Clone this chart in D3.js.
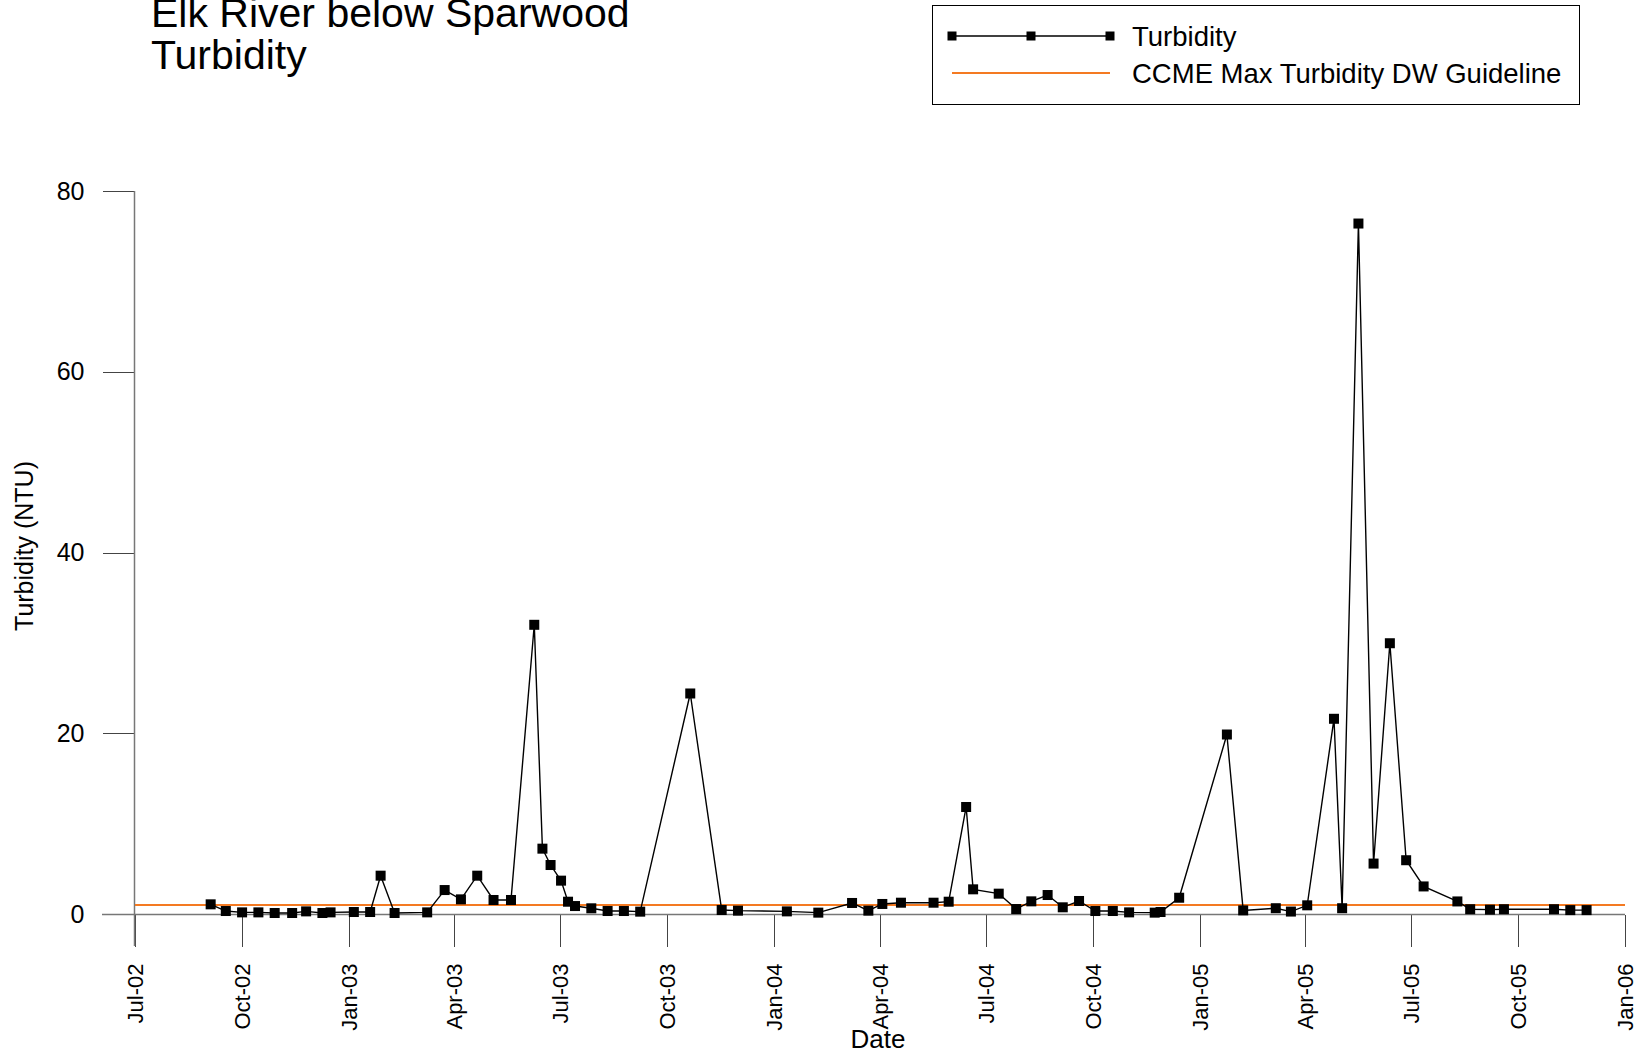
<!DOCTYPE html>
<html>
<head>
<meta charset="utf-8">
<script src="https://cdn.jsdelivr.net/npm/d3@7"></script>
<style>
  html, body { margin: 0; padding: 0; background: #fff; }
  svg { display: block; font-family: "Liberation Sans", Arial, sans-serif; }
</style>
</head>
<body>
<div id="chart"></div>
<script>
const sampleDates = [
  '2002-09-04', '2002-09-17', '2002-10-01', '2002-10-15', '2002-10-29', '2002-11-13', '2002-11-25', '2002-12-09', '2002-12-16',
  '2003-01-05', '2003-01-19', '2003-01-28', '2003-02-09', '2003-03-09', '2003-03-24', '2003-04-07', '2003-04-21', '2003-05-05',
  '2003-05-20', '2003-06-09', '2003-06-16', '2003-06-23', '2003-07-02', '2003-07-08', '2003-07-14', '2003-07-28', '2003-08-11',
  '2003-08-25', '2003-09-08', '2003-10-21', '2003-11-17', '2003-12-01',
  '2004-01-12', '2004-02-08', '2004-03-08', '2004-03-22', '2004-04-03', '2004-04-19', '2004-05-17', '2004-05-30', '2004-06-14',
  '2004-06-20', '2004-07-12', '2004-07-27', '2004-08-09', '2004-08-23', '2004-09-05', '2004-09-19', '2004-10-03', '2004-10-18',
  '2004-11-01', '2004-11-23', '2004-11-28', '2004-12-14',
  '2005-01-24', '2005-02-07', '2005-03-07', '2005-03-20', '2005-04-03', '2005-04-26', '2005-05-03', '2005-05-17', '2005-05-30',
  '2005-06-13', '2005-06-27', '2005-07-12', '2005-08-10', '2005-08-21', '2005-09-07', '2005-09-19', '2005-11-01', '2005-11-15',
  '2005-11-29'
];
const turbidity = [
  1.07, 0.33, 0.18, 0.18, 0.11, 0.11, 0.29, 0.11, 0.18,
  0.22, 0.22, 4.24, 0.11, 0.18, 2.65, 1.62, 4.24, 1.55,
  1.55, 32.0, 7.23, 5.42, 3.69, 1.36, 0.88, 0.63, 0.33,
  0.33, 0.26, 24.4, 0.44, 0.37,
  0.29, 0.15, 1.22, 0.37, 1.11, 1.25, 1.25, 1.36, 11.84,
  2.73, 2.25, 0.55, 1.4, 2.1, 0.74, 1.44, 0.33, 0.33,
  0.18, 0.15, 0.22, 1.8,
  19.86, 0.4, 0.64, 0.27, 0.96, 21.6, 0.64, 76.4, 5.58,
  29.96, 5.95, 3.05, 1.39, 0.53, 0.48, 0.53, 0.53, 0.43,
  0.43
];
const guidelineValue = 1;
const dateDomain = ['2002-07-01', '2006-01-01'];
const yMajorTicks = [0, 20, 40, 60, 80];
const yMinorTicks = [10, 30, 50, 70];
const titleLines = ['Elk River below Sparwood', 'Turbidity'];
const legendLabels = ['Turbidity', 'CCME Max Turbidity DW Guideline'];

const parse = d3.utcParse('%Y-%m-%d');
const data = sampleDates.map((d, i) => ({ date: parse(d), v: turbidity[i] }));

const width = 1640, height = 1055;
const svg = d3.select('#chart').append('svg').attr('width', width).attr('height', height);

const x = d3.scaleUtc(dateDomain.map(parse), [135, 1625]);
const y = d3.scaleLinear([0, 80], [914, 191]);

// title
svg.append('g').selectAll('text').data(titleLines).join('text')
  .attr('x', 151).attr('y', (d, i) => 27 + i * 42)
  .attr('font-size', 41).attr('fill', '#000').text((d) => d);

// axes
const quarterTicks = d3.utcMonth.every(3).range(x.domain()[0], d3.utcDay.offset(x.domain()[1], 1));
const midTicks = d3.pairs(quarterTicks).map(([a, b]) => new Date((+a + +b) / 2));

const gx = svg.append('g').attr('transform', 'translate(0,914.5)');
gx.call(d3.axisBottom(x).tickValues(midTicks).tickSize(16).tickFormat(''));
gx.call(d3.axisBottom(x).tickValues(quarterTicks).tickSize(32).tickFormat(d3.utcFormat('%b-%y')));
gx.selectAll('.domain').remove();
gx.selectAll('line').attr('stroke', '#444').attr('shape-rendering', 'crispEdges');
gx.selectAll('text')
  .attr('transform', 'rotate(-90)')
  .attr('x', -49).attr('y', 0).attr('dy', '0.35em')
  .attr('text-anchor', 'end').attr('font-size', 22).attr('font-family', 'Liberation Sans, Arial, sans-serif').attr('fill', '#000');

const gy = svg.append('g').attr('transform', 'translate(134.5,0)');
gy.call(d3.axisLeft(y).tickValues(yMinorTicks).tickSize(16).tickFormat(''));
gy.call(d3.axisLeft(y).tickValues(yMajorTicks).tickSize(32));
gy.selectAll('.domain').remove();
gy.selectAll('line').attr('stroke', '#444').attr('shape-rendering', 'crispEdges');
gy.selectAll('text').attr('x', -50).attr('font-size', 25)
  .attr('font-family', 'Liberation Sans, Arial, sans-serif').attr('fill', '#000');

// axis lines
svg.append('line').attr('x1', 102).attr('x2', 1625).attr('y1', 914.5).attr('y2', 914.5)
  .attr('stroke', '#777').attr('stroke-width', 1.5);
svg.append('line').attr('x1', 134.5).attr('x2', 134.5).attr('y1', 191).attr('y2', 946)
  .attr('stroke', '#777').attr('stroke-width', 1.5);

// axis titles
svg.append('text').attr('transform', 'translate(33,546) rotate(-90)')
  .attr('text-anchor', 'middle').attr('font-size', 25).text('Turbidity (NTU)');
svg.append('text').attr('x', 878).attr('y', 1048)
  .attr('text-anchor', 'middle').attr('font-size', 26).text('Date');

// guideline
svg.append('line').attr('x1', x.range()[0]).attr('x2', x.range()[1])
  .attr('y1', y(guidelineValue)).attr('y2', y(guidelineValue))
  .attr('stroke', '#f47a22').attr('stroke-width', 2);

// turbidity series
const line = d3.line().x((d) => x(d.date)).y((d) => y(d.v));
svg.append('path').datum(data).attr('fill', 'none').attr('stroke', '#000').attr('stroke-width', 1.4).attr('d', line);
svg.append('g').selectAll('rect').data(data).join('rect')
  .attr('x', (d) => x(d.date) - 5).attr('y', (d) => y(d.v) - 5)
  .attr('width', 10).attr('height', 10).attr('fill', '#000');

// legend
const lg = svg.append('g');
lg.append('rect').attr('x', 932.5).attr('y', 5.5).attr('width', 647).attr('height', 99)
  .attr('fill', '#fff').attr('stroke', '#000').attr('stroke-width', 1);
lg.append('line').attr('x1', 952).attr('x2', 1110).attr('y1', 36).attr('y2', 36).attr('stroke', '#000').attr('stroke-width', 1.4);
lg.selectAll('rect.mk').data([952, 1031, 1110]).join('rect').attr('class', 'mk')
  .attr('x', (d) => d - 4.5).attr('y', 31.5).attr('width', 9).attr('height', 9).attr('fill', '#000');
lg.append('line').attr('x1', 952).attr('x2', 1110).attr('y1', 73).attr('y2', 73).attr('stroke', '#f47a22').attr('stroke-width', 2);
lg.selectAll('text').data(legendLabels).join('text')
  .attr('x', 1132).attr('y', (d, i) => 36 + i * 37).attr('dy', '0.35em')
  .attr('font-size', 27.5).text((d) => d);
</script>
</body>
</html>
